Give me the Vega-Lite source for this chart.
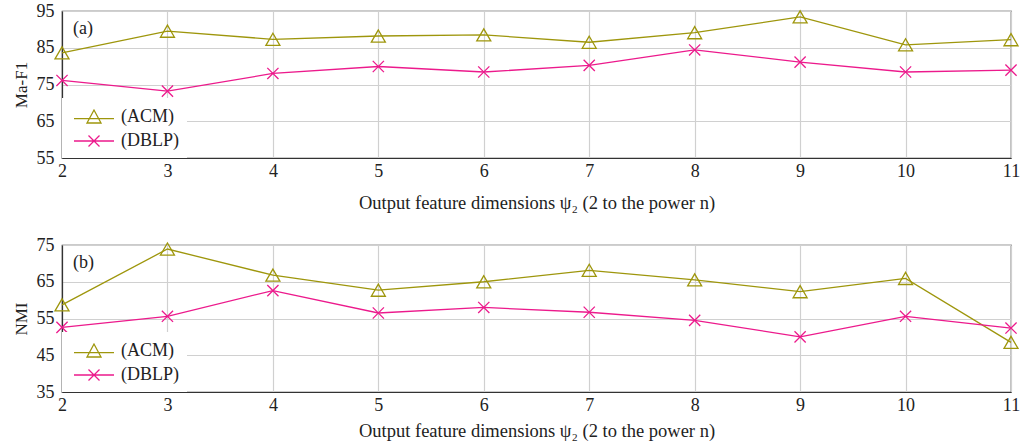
{
  "$schema": "https://vega.github.io/schema/vega-lite/v6.json",
  "padding": {"left": 11, "top": 1, "right": 8, "bottom": 0},
  "background": "white",
  "datasets": {
    "maf1": [
      {"n": 2, "series": "ACM", "value": 83.6}, {"n": 3, "series": "ACM", "value": 89.5}, {"n": 4, "series": "ACM", "value": 87.3},
      {"n": 5, "series": "ACM", "value": 88.2}, {"n": 6, "series": "ACM", "value": 88.5}, {"n": 7, "series": "ACM", "value": 86.5},
      {"n": 8, "series": "ACM", "value": 89.1}, {"n": 9, "series": "ACM", "value": 93.4}, {"n": 10, "series": "ACM", "value": 85.8},
      {"n": 11, "series": "ACM", "value": 87.2},
      {"n": 2, "series": "DBLP", "value": 76.1}, {"n": 3, "series": "DBLP", "value": 73.2}, {"n": 4, "series": "DBLP", "value": 78.0},
      {"n": 5, "series": "DBLP", "value": 79.9}, {"n": 6, "series": "DBLP", "value": 78.4}, {"n": 7, "series": "DBLP", "value": 80.2},
      {"n": 8, "series": "DBLP", "value": 84.4}, {"n": 9, "series": "DBLP", "value": 81.1}, {"n": 10, "series": "DBLP", "value": 78.4},
      {"n": 11, "series": "DBLP", "value": 78.9}
    ],
    "nmi": [
      {"n": 2, "series": "ACM", "value": 58.7}, {"n": 3, "series": "ACM", "value": 73.9}, {"n": 4, "series": "ACM", "value": 66.8},
      {"n": 5, "series": "ACM", "value": 62.7}, {"n": 6, "series": "ACM", "value": 65.0}, {"n": 7, "series": "ACM", "value": 68.1},
      {"n": 8, "series": "ACM", "value": 65.5}, {"n": 9, "series": "ACM", "value": 62.3}, {"n": 10, "series": "ACM", "value": 65.9},
      {"n": 11, "series": "ACM", "value": 48.5},
      {"n": 2, "series": "DBLP", "value": 52.6}, {"n": 3, "series": "DBLP", "value": 55.6}, {"n": 4, "series": "DBLP", "value": 62.6},
      {"n": 5, "series": "DBLP", "value": 56.5}, {"n": 6, "series": "DBLP", "value": 58.0}, {"n": 7, "series": "DBLP", "value": 56.7},
      {"n": 8, "series": "DBLP", "value": 54.5}, {"n": 9, "series": "DBLP", "value": 50.0}, {"n": 10, "series": "DBLP", "value": 55.6},
      {"n": 11, "series": "DBLP", "value": 52.4}
    ]
  },
  "spacing": 22,
  "vconcat": [
    {
      "width": 949,
      "height": 147,
      "data": {"name": "maf1"},
      "title": {"text": "(a)", "anchor": "start", "frame": "group", "dx": 11, "dy": 40, "fontSize": 18, "font": "Liberation Serif", "fontWeight": "normal", "color": "#222"},
      "encoding": {
        "x": {"field": "n", "type": "quantitative", "scale": {"domain": [2, 11], "nice": false},
              "axis": {"values": [2,3,4,5,6,7,8,9,10,11], "title": "Output feature dimensions ψ₂ (2 to the power n)", "titlePadding": 13}},
        "y": {"field": "value", "type": "quantitative", "scale": {"domain": [55, 95], "nice": false, "zero": false},
              "axis": {"values": [55,65,75,85,95], "title": "Ma-F1"}},
        "color": {"field": "series", "type": "nominal", "scale": {"domain": ["ACM", "DBLP"], "range": ["#9e960c", "#ec1a8c"]},
                  "legend": {
                    "orient": "bottom-left", "offset": 0, "fillColor": "white", "padding": 8, "title": null,
                    "labelFont": "Liberation Serif", "labelFontSize": 18, "labelColor": "#222",
                    "symbolSize": 400, "symbolStrokeWidth": 1.3, "rowPadding": 4, "labelOffset": 29,
                    "labelExpr": "'(' + datum.label + ')'",
                    "symbolType": "stroke",
                    "encode": {"symbols": {"update": {
                      "shape": {"signal": "datum.value === 'ACM' ? 'M-0.7,0.17L3.3,0.17M1.3,-0.7L0.6,0.6L2.0,0.6Z' : 'M-0.7,0L3.3,0M0.75,-0.55L1.85,0.55M1.85,-0.55L0.75,0.55'"},
                      "size": {"value": 400},
                      "fill": {"value": "transparent"},
                      "strokeWidth": {"value": 1.3}
                    }}}
                  }}
      },
      "layer": [
        {"mark": {"type": "line", "strokeWidth": 1.3}},
        {"mark": {"type": "point", "filled": false, "size": 196, "strokeWidth": 1.3, "opacity": 1},
         "encoding": {"shape": {"field": "series", "type": "nominal", "legend": null, "scale": {"domain": ["ACM", "DBLP"], "range": ["triangle-up", "M-0.8,-0.8L0.8,0.8M0.8,-0.8L-0.8,0.8"]}}}}
      ]
    },
    {
      "width": 949,
      "height": 147,
      "data": {"name": "nmi"},
      "title": {"text": "(b)", "anchor": "start", "frame": "group", "dx": 11, "dy": 40, "fontSize": 18, "font": "Liberation Serif", "fontWeight": "normal", "color": "#222"},
      "encoding": {
        "x": {"field": "n", "type": "quantitative", "scale": {"domain": [2, 11], "nice": false},
              "axis": {"values": [2,3,4,5,6,7,8,9,10,11], "title": "Output feature dimensions ψ₂ (2 to the power n)", "titlePadding": 7}},
        "y": {"field": "value", "type": "quantitative", "scale": {"domain": [35, 75], "nice": false, "zero": false},
              "axis": {"values": [35,45,55,65,75], "title": "NMI"}},
        "color": {"field": "series", "type": "nominal", "scale": {"domain": ["ACM", "DBLP"], "range": ["#9e960c", "#ec1a8c"]},
                  "legend": {
                    "orient": "bottom-left", "offset": 0, "fillColor": "white", "padding": 8, "title": null,
                    "labelFont": "Liberation Serif", "labelFontSize": 18, "labelColor": "#222",
                    "symbolSize": 400, "symbolStrokeWidth": 1.3, "rowPadding": 4, "labelOffset": 29,
                    "labelExpr": "'(' + datum.label + ')'",
                    "symbolType": "stroke",
                    "encode": {"symbols": {"update": {
                      "shape": {"signal": "datum.value === 'ACM' ? 'M-0.7,0.17L3.3,0.17M1.3,-0.7L0.6,0.6L2.0,0.6Z' : 'M-0.7,0L3.3,0M0.75,-0.55L1.85,0.55M1.85,-0.55L0.75,0.55'"},
                      "size": {"value": 400},
                      "fill": {"value": "transparent"},
                      "strokeWidth": {"value": 1.3}
                    }}}
                  }}
      },
      "layer": [
        {"mark": {"type": "line", "strokeWidth": 1.3}},
        {"mark": {"type": "point", "filled": false, "size": 196, "strokeWidth": 1.3, "opacity": 1},
         "encoding": {"shape": {"field": "series", "type": "nominal", "legend": null, "scale": {"domain": ["ACM", "DBLP"], "range": ["triangle-up", "M-0.8,-0.8L0.8,0.8M0.8,-0.8L-0.8,0.8"]}}}}
      ]
    }
  ],
  "resolve": {"scale": {"color": "shared", "shape": "shared"}, "legend": {"color": "independent"}},
  "config": {
    "font": "Liberation Serif",
    "view": {"stroke": "#333", "strokeWidth": 1.2},
    "axis": {
      "labelFont": "Liberation Serif", "labelFontSize": 18, "labelColor": "#222",
      "titleFont": "Liberation Serif", "titleFontSize": 17, "titleFontWeight": "normal", "titleColor": "#222",
      "gridColor": "#d0d0d0", "gridWidth": 1.2, "domainColor": "#333", "domainWidth": 1.2,
      "ticks": false, "labelPadding": 8, "titlePadding": 8
    },
    "axisX": {"labelPadding": 4, "titleFontSize": 18.5, "labelFlush": false},
    "axisY": {"titlePadding": 6, "labelFlush": false}
  }
}
